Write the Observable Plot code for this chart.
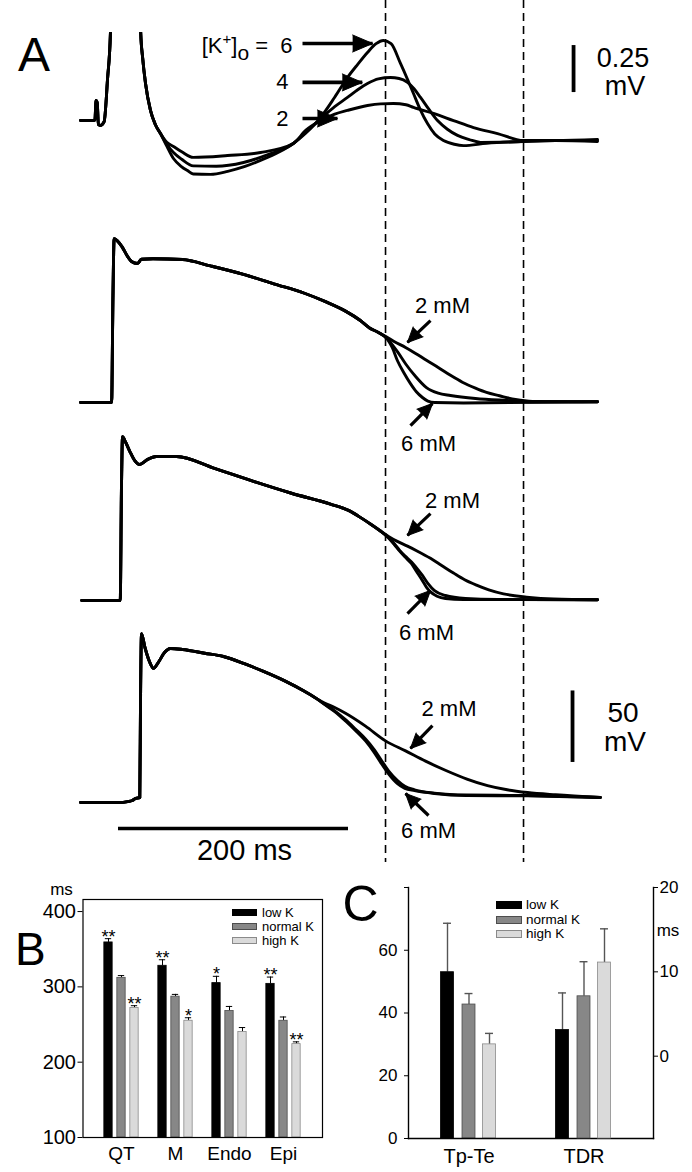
<!DOCTYPE html>
<html><head><meta charset="utf-8">
<script src="https://cdn.jsdelivr.net/npm/d3@7"></script>
<script src="https://cdn.jsdelivr.net/npm/@observablehq/plot@0.6"></script>
<style>
html,body{margin:0;padding:0;background:#fff;}
#fig{position:relative;width:692px;height:1172px;overflow:hidden;font-family:"Liberation Sans",Arial,Helvetica,sans-serif;background:#fff;}
#fig svg{position:absolute;}
.lbl{position:absolute;line-height:1;white-space:nowrap;color:#000;}
.sw{position:absolute;box-sizing:border-box;}
</style></head><body><div id="fig"></div><script>
// ---------- DATA ----------
// Panel A: time in ms (0 = start of 200 ms scale bar), ECG in mV, APs in mV
const ecgCommon = [[-33,0.106],[-22,0.106],[-20.5,0.11],[-19.5,0.213],[-18.5,0.2],[-17.5,0.085],[-15.7,0.08],[-12.5,0.1],[-9.5,0.33],[-7,0.574],[-5,1.2],[4,2.6],[17,1.2],[19.3,0.574],[21,0.44],[23.5,0.303],[27.8,0.16],[32,0.085],[36.5,0.037]];
const ecg6 = [[42,-0.03],[47.8,-0.096],[55,-0.14],[60,-0.16],[65,-0.178],[80,-0.18],[95,-0.164],[110,-0.138],[123.5,-0.106],[140,-0.06],[152,-0.016],[163,0.04],[175.7,0.122],[188,0.23],[199.1,0.335],[208,0.405],[216.5,0.468],[224,0.515],[230.4,0.532],[237,0.515],[245.2,0.41],[251,0.33],[256.5,0.25],[262,0.17],[268.7,0.09],[275,0.035],[282.6,0],[292,-0.02],[300,-0.027],[320,-0.015],[350,-0.005],[380,0],[416.5,-0.005]];
const ecg4 = [[42,-0.02],[47.8,-0.064],[55,-0.1],[65,-0.135],[85,-0.137],[108.7,-0.117],[130,-0.075],[152,-0.016],[163,0.045],[175.7,0.115],[188,0.18],[199.1,0.229],[208,0.27],[216.5,0.303],[226,0.328],[236.5,0.335],[244,0.33],[251.3,0.309],[257,0.275],[262.6,0.229],[270,0.165],[277.4,0.106],[286,0.06],[294.8,0.027],[305,0.005],[314.8,-0.01],[340,-0.008],[380,0],[416.5,0]];
const ecg2 = [[42,-0.01],[47.8,-0.032],[55,-0.06],[65,-0.09],[94.8,-0.08],[123.5,-0.064],[152,-0.016],[163,0.055],[175.7,0.105],[188,0.14],[199.1,0.16],[216.5,0.186],[228,0.195],[239.1,0.197],[250,0.19],[256.5,0.176],[273.9,0.144],[291.3,0.106],[308.7,0.069],[329.6,0.037],[352.2,0],[380,0],[416.5,0.005]];

const ap1Common = [[-33,-85],[-6,-85],[-4.8,-10],[-3.8,29.6],[-1,28],[3,24],[8,17],[11.3,13.6],[16.5,12.2],[20,15.2],[30,15.5],[55.7,15],[80,10.5],[108.7,4.6],[135,-2],[161.7,-8.6],[180,-14.5],[197.4,-21.1],[210,-27.5],[218.3,-32.9],[226,-36]];
const ap1_6 = [[233.9,-40.8],[238,-46.5],[242.6,-55.8],[248,-64],[253.9,-71.8],[259,-77.5],[264.3,-81.5],[269,-84],[274.8,-85],[300,-85.3],[416.5,-84.5]];
const ap1_4 = [[233.9,-40.3],[238,-44.5],[243,-50],[249.6,-57.9],[258,-66.5],[267.8,-74.6],[278,-78.5],[288.7,-80.1],[310.4,-82.2],[338.3,-83.6],[360,-84.5],[416.5,-84.5]];
const ap1_2 = [[233.9,-39.6],[240,-42.5],[249.6,-46.5],[258,-50.5],[267.8,-55.5],[278,-60.5],[288.7,-66],[299,-70.8],[310.4,-75],[320,-78],[331.3,-80.3],[345.2,-82.9],[360,-84.2],[416.5,-84.5]];

const ap2Common = [[-32,-85],[1.5,-85],[2.6,-5],[3.5,29.6],[6,26],[10,19],[14,13],[18.3,10.1],[25,13.5],[33,15.7],[50.4,15.7],[83.5,7.4],[117.4,-1.7],[150.4,-10],[184.3,-17.6],[200,-22],[211.3,-27.4],[220,-32],[227.8,-36.4]];
const ap2_6 = [[234.8,-41.2],[240,-46],[244.3,-50.3],[249,-54.5],[254.8,-59.3],[259,-64.5],[264.3,-71.1],[268,-76],[271.3,-79],[277,-82],[284.3,-83.6],[300,-84.3],[416.5,-84.5]];
const ap2_4 = [[234.8,-41],[240,-45.5],[244.3,-49.8],[249,-53.8],[254.8,-58],[259,-62],[264.3,-67.5],[269,-73],[274.8,-78.1],[284.3,-81.5],[301.7,-83.6],[330,-84.3],[416.5,-84.5]];
const ap2_2 = [[234.8,-40.2],[242,-43.5],[251.3,-47],[260,-50.5],[271.3,-55.5],[281,-60.5],[291.3,-65.8],[301,-70.5],[311.3,-74.3],[322,-77.6],[334.8,-80.4],[354.8,-82.6],[378.3,-84],[416.5,-84.5]];

const ap3Common = [[-33,-86.4],[0,-86.4],[8,-85.8],[12,-85],[15,-83.5],[18.5,-83],[19.2,-10],[20,31.7],[23,22],[27,12],[30.4,7.4],[35,12],[40,18.5],[45.2,21.3],[55.7,20.6],[75,18],[91.3,15.7],[110,10.5],[126.1,5.3],[145,-1.5],[161.7,-8.6],[172,-13.6]];
const ap3_6 = [[179.1,-17.8],[188,-22.8],[197.4,-29.4],[206,-36],[214.8,-43.3],[222,-51],[228.7,-59.3],[235,-66.5],[242.6,-73.2],[249,-76.5],[257.4,-78.1],[274.8,-80.1],[302.6,-81.5],[355.7,-81.8],[419,-82.9]];
const ap3_4 = [[179.1,-17.6],[188,-22.3],[197.4,-28.5],[206,-35],[214.8,-42],[222,-49],[228.7,-57],[235,-64.5],[242.6,-71],[249,-75],[257.4,-77.5],[274.8,-79.8],[302.6,-81.2],[355.7,-81.5],[419,-82.9]];
const ap3_2 = [[179.1,-16.8],[188,-20],[197.4,-24],[214.8,-33],[232.2,-43.3],[249.6,-50.3],[267,-57.5],[285.2,-64.2],[303,-70],[320.9,-74.6],[338,-77.5],[355.7,-79.4],[380,-81],[419,-82.9]];

const markerTimes = [232.2, 352.2];           // dashed vertical lines (ms)
const timeBar = {t1: 0, t2: 200, label: "200 ms"};

// Panel B
const bGroups = ["QT", "M", "Endo", "Epi"];
const kLevels = ["low K", "normal K", "high K"];
const bLow = [359, 328, 305, 304];
const bLowErr = [5, 8, 9, 9];
const bNormal = [312, 287, 268, 255];
const bNormalErr = [3, 3, 6, 5];
const bHigh = [272, 255, 240, 224];
const bHighErr = [3, 4, 6, 3];
const bSigLow = ["**", "**", "*", "**"];
const bSigNormal = ["", "", "", ""];
const bSigHigh = ["**", "*", "", "**"];
const bTicks = [100, 200, 300, 400];

// Panel C
const cGroups = ["Tp-Te", "TDR"];
const cTpTe = [53, 42.7, 30];     // low, normal, high (left axis, ms)
const cTpTeErr = [15.6, 3.5, 3.5];
const cTDR = [3.1, 7.1, 11.1];    // low, normal, high (right axis, ms)
const cTDRErr = [4.4, 4.1, 4.0];
const cLeftTicks = [0, 20, 40, 60, 80];
const cRightTicks = [0, 10, 20];

// ---------- HELPERS ----------
const FONT = '"Liberation Sans", Arial, Helvetica, sans-serif';
const fig = document.getElementById("fig");
function place(svg, left, top) { svg.style.left = left + "px"; svg.style.top = top + "px"; svg.style.position = "absolute"; fig.appendChild(svg); }
const mk = (common, tail, k) => common.concat(tail).map(([t, v]) => ({t, v, k}));
const baseStyle = {background: "transparent", fontFamily: FONT, overflow: "visible"};
const WA = 692, HA = 862;
const xA = {domain: [-100, 500], range: [3, 693], axis: null};
const apGain = 1.43; // px per mV

function arrowMarks(arrows, shaft, headLen, headR) {
  return [
    Plot.link(arrows, {x1: "x1", y1: "y1", x2: "x2", y2: "y2", stroke: "#000", strokeWidth: shaft}),
    Plot.vector(arrows, {x: "x2", y: "y2", rotate: "rot", length: headLen, r: headR, shape: "spike", anchor: "end", fill: "#000", stroke: "#000", strokeWidth: 1})
  ];
}
function traceLine(rows, clip) {
  return Plot.line(rows, {x: "t", y: "v", z: "k", stroke: "#000", strokeWidth: 2.9, curve: "monotone-x", clip: clip, strokeLinejoin: "round"});
}
function label(arr, fs) {
  return Plot.text(arr, {x: "t", y: "v", text: "text", fontSize: fs, textAnchor: "middle", lineAnchor: "middle", fill: "#000"});
}

// ---------- PANEL A : ECG ----------
const ecgRows = [...mk(ecgCommon, ecg6, "6"), ...mk(ecgCommon, ecg4, "4"), ...mk(ecgCommon, ecg2, "2")];
const kLabelText = "[K+]o = 6";
const ecgLabels = [{t: 151.3, v: 0.505, text: kLabelText}, {t: 147.8, v: 0.309, text: "4"}, {t: 147.8, v: 0.117, text: "2"}];
const ecgArrows = [
  {x1: 160, y1: 0.516, x2: 221, y2: 0.516, rot: 90},
  {x1: 160, y1: 0.309, x2: 212, y2: 0.309, rot: 90},
  {x1: 160, y1: 0.117, x2: 190.4, y2: 0.117, rot: 90}
];
const ecgBar = [{t: 395.7, v1: 0.255, v2: 0.505}];
const ecgBarText = [{t: 438.7, v: 0.439, text: "0.25"}, {t: 440.4, v: 0.287, text: "mV"}];

const ecgPlot = Plot.plot({
  width: WA, height: HA, marginTop: 32, marginBottom: 0, marginLeft: 0, marginRight: 0,
  x: xA, y: {domain: [0, 1], range: [140, -48], axis: null},
  style: baseStyle,
  marks: [
    traceLine(ecgRows, true),
    Plot.text(ecgLabels, {x: "t", y: "v", text: "text", fontSize: 22, textAnchor: "end", lineAnchor: "middle"}),
    ...arrowMarks(ecgArrows, 3.6, 20, 8.5),
    Plot.ruleX(ecgBar, {x: "t", y1: "v1", y2: "v2", stroke: "#000", strokeWidth: 3.8}),
    label(ecgBarText, 27)
  ]
});
ecgPlot.querySelectorAll("text").forEach(el => {
  if (el.textContent === kLabelText) {
    el.textContent = "";
    const NS = "http://www.w3.org/2000/svg";
    const parts = [["[K", null, null], ["+", "-9", "15px"], ["]", "9", null], ["o", "7", "21px"], ["\u00a0=\u00a0\u00a06", "-7", null]];
    for (const [s, dy, fs] of parts) {
      const ts = document.createElementNS(NS, "tspan");
      ts.textContent = s;
      if (dy) ts.setAttribute("dy", dy);
      if (fs) ts.setAttribute("font-size", fs);
      el.appendChild(ts);
    }
  }
});
place(ecgPlot, 0, 0);

// ---------- PANEL A : action potentials ----------
function apPlot(rows, base, extra) {
  return Plot.plot({
    width: WA, height: HA, margin: 0,
    x: xA, y: {domain: [-85, 35], range: [base, base - 120 * apGain], axis: null},
    style: baseStyle,
    marks: [traceLine(rows, false), ...extra]
  });
}
const ap1Rows = [...mk(ap1Common, ap1_6, "6"), ...mk(ap1Common, ap1_4, "4"), ...mk(ap1Common, ap1_2, "2")];
const ap2Rows = [...mk(ap2Common, ap2_6, "6"), ...mk(ap2Common, ap2_4, "4"), ...mk(ap2Common, ap2_2, "2")];
const ap3Rows = [...mk(ap3Common, ap3_6, "6"), ...mk(ap3Common, ap3_4, "4"), ...mk(ap3Common, ap3_2, "2")];

const ap1Plot = apPlot(ap1Rows, 402, [
  label([{t: 281.7, v: -17.2, text: "2 mM"}, {t: 269.6, v: -113.7, text: "6 mM"}], 22),
  ...arrowMarks([{x1: 271.3, y1: -27.7, x2: 251.3, y2: -43.0, rot: 225}, {x1: 253.9, y1: -101.1, x2: 273, y2: -85.7, rot: 45}], 3.2, 15, 7)
]);
place(ap1Plot, 0, 0);

const ap2Plot = apPlot(ap2Rows, 600, [
  label([{t: 290.4, v: -15.1, text: "2 mM"}, {t: 267.8, v: -107.4, text: "6 mM"}], 22),
  ...arrowMarks([{x1: 271.3, y1: -24.2, x2: 251.3, y2: -39.5, rot: 225}, {x1: 251.3, y1: -94.1, x2: 271.3, y2: -78, rot: 45}], 3.2, 15, 7)
]);
place(ap2Plot, 0, 0);

const ap3Plot = apPlot(ap3Rows, 800, [
  Plot.ruleX(markerTimes, {stroke: "#000", strokeWidth: 1.6, strokeDasharray: "8,5"}),
  label([{t: 287.4, v: -20.7, text: "2 mM"}, {t: 269.6, v: -106, text: "6 mM"}], 22),
  ...arrowMarks([{x1: 273, y1: -32.6, x2: 253.9, y2: -48.6, rot: 225}, {x1: 269.6, y1: -95.5, x2: 249.6, y2: -80.1, rot: 315}], 3.2, 15, 7),
  Plot.ruleX([{t: 394.8, v1: -58.4, v2: -8.4}], {x: "t", y1: "v1", y2: "v2", stroke: "#000", strokeWidth: 3.8}),
  label([{t: 438.7, v: -23.5, text: "50"}, {t: 440.4, v: -44.1, text: "mV"}], 28),
  Plot.ruleY([{v: -104.6, ...timeBar}], {y: "v", x1: "t1", x2: "t2", stroke: "#000", strokeWidth: 3.4}),
  label([{t: 109.6, v: -120, text: timeBar.label}], 29)
]);
place(ap3Plot, 0, 0);

// ---------- PANEL B ----------
const bVals = [bLow, bNormal, bHigh], bErrs = [bLowErr, bNormalErr, bHighErr], bSigs = [bSigLow, bSigNormal, bSigHigh];
const bRows = bGroups.flatMap((g, i) => kLevels.map((k, j) => ({group: g, k, value: bVals[j][i], err: bErrs[j][i], sig: bSigs[j][i]})));
const fills = ["#000000", "#878787", "#dadada"];
const strokes = ["#000000", "#4d4d4d", "#8a8a8a"];
const B = {w: 340, h: 312, ml: 82.5, mr: 18, mt: 39, mb: 35, po: 0.19};
const bStep = (B.w - B.ml - B.mr) / (bGroups.length + 2 * B.po);
const bOff = [-13, 0, 13], bBarW = 9, bCapW = 7;
const bMarks = [];
kLevels.forEach((k, j) => {
  const sub = bRows.filter(d => d.k === k);
  const ins = (bStep - bBarW) / 2, capIns = (bStep - bCapW) / 2;
  bMarks.push(
    Plot.ruleX(sub, {x: "group", y1: "value", y2: d => d.value + d.err, dx: bOff[j], stroke: "#000", strokeWidth: 1}),
    Plot.tickY(sub, {x: "group", y: d => d.value + d.err, dx: bOff[j], insetLeft: capIns, insetRight: capIns, stroke: "#000", strokeWidth: 1}),
    Plot.barY(sub, {x: "group", y1: () => bTicks[0], y2: "value", dx: bOff[j], insetLeft: ins, insetRight: ins, fill: fills[j], stroke: strokes[j], strokeWidth: 0.8}),
    Plot.text(sub.filter(d => d.sig), {x: "group", y: d => d.value + d.err, text: "sig", dx: bOff[j], dy: 4, lineAnchor: "bottom", fontSize: 18})
  );
});
const bPlot = Plot.plot({
  width: B.w, height: B.h, marginLeft: B.ml, marginRight: B.mr, marginTop: B.mt, marginBottom: B.mb,
  x: {type: "band", domain: bGroups, paddingInner: 0, paddingOuter: B.po},
  y: {domain: [100, 416]},
  style: {...baseStyle, fontSize: "20px"},
  marks: [
    ...bMarks,
    Plot.frame({stroke: "#000", strokeWidth: 1.2}),
    Plot.axisY({ticks: bTicks, tickSize: 5, tickPadding: 2, fontSize: 20, label: null}),
    Plot.axisX({tickSize: 0, tickPadding: 9, fontSize: 19, label: null}),
    Plot.text(["ms"], {frameAnchor: "top-left", dx: -21.5, dy: -10, fontSize: 17, textAnchor: "middle", lineAnchor: "middle"})
  ]
});
place(bPlot, 0, 860);

// ---------- PANEL C ----------
const C = {w: 352, h: 312, ml: 68, mr: 39, mt: 27, mb: 34, po: 0.065, align: 0.2};
const cStep = (C.w - C.ml - C.mr) / (cGroups.length + 2 * C.po);
const cOff = [-21.5, 0, 20.5], cBarW = 13, cCapW = 8;
const cxScale = {type: "band", domain: cGroups, paddingInner: 0, paddingOuter: C.po, align: C.align};
const tpteRows = kLevels.map((k, j) => ({group: cGroups[0], k, value: cTpTe[j], err: cTpTeErr[j]}));
const tdrRows = kLevels.map((k, j) => ({group: cGroups[1], k, value: cTDR[j], err: cTDRErr[j]}));
const cRightMin = -9.76;
function cBars(rows, base) {
  const out = [];
  kLevels.forEach((k, j) => {
    const sub = rows.filter(d => d.k === k);
    const ins = (cStep - cBarW) / 2, capIns = (cStep - cCapW) / 2;
    out.push(
      Plot.ruleX(sub, {x: "group", y1: "value", y2: d => d.value + d.err, dx: cOff[j], stroke: "#555", strokeWidth: 1.4}),
      Plot.tickY(sub, {x: "group", y: d => d.value + d.err, dx: cOff[j], insetLeft: capIns, insetRight: capIns, stroke: "#555", strokeWidth: 1.4}),
      Plot.barY(sub, {x: "group", y1: () => base, y2: "value", dx: cOff[j], insetLeft: ins, insetRight: ins, fill: fills[j], stroke: strokes[j], strokeWidth: 0.8})
    );
  });
  return out;
}
const c1 = Plot.plot({
  width: C.w, height: C.h, marginLeft: C.ml, marginRight: C.mr, marginTop: C.mt, marginBottom: C.mb,
  x: cxScale, y: {domain: [0, 80]},
  style: {...baseStyle, fontSize: "17px"},
  marks: [
    ...cBars(tpteRows, 0),
    Plot.frame({anchor: "left", stroke: "#000", strokeWidth: 1.4}),
    Plot.frame({anchor: "bottom", stroke: "#000", strokeWidth: 1.4}),
    Plot.frame({anchor: "right", stroke: "#000", strokeWidth: 1.4}),
    Plot.axisY({ticks: cLeftTicks, tickFormat: d => (d === 80 ? "" : d), tickSize: 4, tickPadding: 7, fontSize: 17, label: null}),
    Plot.axisX({tickSize: 0, tickPadding: 10, fontSize: 20, label: null})
  ]
});
place(c1, 340, 860);
const c2 = Plot.plot({
  width: C.w, height: C.h, marginLeft: C.ml, marginRight: C.mr, marginTop: C.mt, marginBottom: C.mb,
  x: {...cxScale, axis: null}, y: {domain: [cRightMin, 20]},
  style: {...baseStyle, fontSize: "17px"},
  marks: [
    ...cBars(tdrRows, cRightMin),
    Plot.axisY({anchor: "right", ticks: cRightTicks, tickSize: 4, tickPadding: 2, fontSize: 17, label: null}),
    Plot.text(["ms"], {frameAnchor: "top-right", dx: 14.5, dy: 43, fontSize: 17, textAnchor: "middle", lineAnchor: "middle"})
  ]
});
place(c2, 340, 860);

// ---------- legends & panel letters (HTML) ----------
function legend(x, ys, sw, sh, tx, fs) {
  kLevels.forEach((k, j) => {
    const s = document.createElement("div");
    s.className = "sw";
    Object.assign(s.style, {left: x + "px", top: (ys[j] - sh / 2) + "px", width: sw + "px", height: sh + "px", background: fills[j], border: "1px solid " + strokes[j]});
    fig.appendChild(s);
    const t = document.createElement("div");
    t.className = "lbl";
    t.textContent = k;
    Object.assign(t.style, {left: tx + "px", top: (ys[j] - fs * 0.5) + "px", fontSize: fs + "px"});
    fig.appendChild(t);
  });
}
legend(232, [912, 926, 940], 25, 7, 262, 13);
legend(496, [905, 920, 934], 26, 8, 526, 13.5);

function letter(txt, left, baseline, size) {
  const d = document.createElement("div");
  d.className = "lbl";
  d.textContent = txt;
  Object.assign(d.style, {left: left + "px", top: (baseline - 0.8465 * size) + "px", fontSize: size + "px"});
  fig.appendChild(d);
}
letter("A", 18, 72, 48);
letter("B", 15, 965, 46);
letter("C", 342.5, 921, 50);
</script></body></html>
